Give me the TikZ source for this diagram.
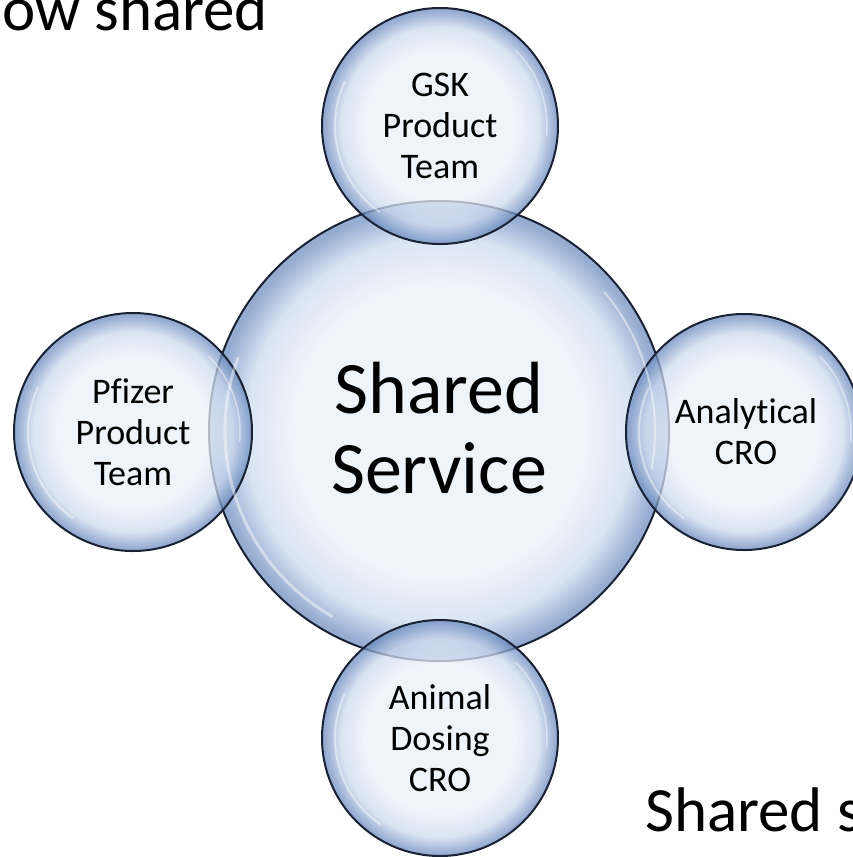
\documentclass[tikz,border=0pt]{standalone}
\usepackage{fontspec}
\setmainfont{Carlito}[Ligatures={NoCommon}]
\definecolor{bubin}{RGB}{234,239,248}
\definecolor{bubmid}{RGB}{205,218,238}
\definecolor{bubedge}{RGB}{112,142,192}
\definecolor{bubline}{RGB}{24,34,52}
\pgfdeclareradialshading{bubble}{\pgfpoint{0bp}{0bp}}{color(0bp)=(bubin); color(16bp)=(bubin); color(21bp)=(bubmid); color(24.5bp)=(bubedge); color(25bp)=(bubedge); color(50bp)=(bubedge)}
\tikzset{
  bub/.style={circle, inner sep=0pt, outer sep=0pt, minimum size=#1, shading=bubble, fill opacity=0.74, draw=bubline, draw opacity=1, line width=2pt},
  smalllabel/.style={align=center, font=\fontsize{36}{41}\selectfont, text=black},
  biglabel/.style={align=center, font=\fontsize{74}{80}\selectfont, text=black},
  cuttext/.style={anchor=base west, inner sep=0pt, font=\fontsize{63}{70}\selectfont, text=black},
  shine/.style={white, line width=#1, opacity=0.45, line cap=round}
}
\begin{document}
\begin{tikzpicture}[x=1pt,y=-1pt]
\useasboundingbox (0,0) rectangle (853,857);
\clip (0,0) rectangle (853,857);
% bubbles
\node[bub=460pt] (center) at (439,431) {};
\node[bub=236pt] (gsk) at (440,126) {};
\node[bub=238pt] (pfizer) at (133,432) {};
\node[bub=236pt] (analytical) at (744,432) {};
\node[bub=236pt] (animal) at (440,738) {};
% highlights
\draw[shine=3pt] (center.center) ++(200:214) arc[start angle=200, end angle=120, radius=214];
\draw[shine=2pt] (center.center) ++(-40:216) arc[start angle=-40, end angle=10, radius=216];
\foreach \n in {gsk,pfizer,analytical,animal}{
  \draw[shine=2pt] (\n.center) ++(205:105) arc[start angle=205, end angle=125, radius=105];
  \draw[shine=1.5pt] (\n.center) ++(-45:107) arc[start angle=-45, end angle=5, radius=107];
}
% labels
\node[biglabel] (tcenter) at (439,428) {Shared\\Service};
\node[smalllabel] (tgsk) at (440,126) {GSK\\Product\\Team};
\node[smalllabel] (tpfizer) at (133,432) {Pfizer\\Product\\Team};
\node[smalllabel] (tanalytical) at (746,432) {Analytical\\CRO};
\node[smalllabel] (tanimal) at (440,738) {Animal\\Dosing\\CRO};
% cut-off texts
\node[cuttext] (toptext) at (2,30) {ow shared};
\node[cuttext] (bottext) at (645,831) {Shared s};
\end{tikzpicture}
\end{document}
